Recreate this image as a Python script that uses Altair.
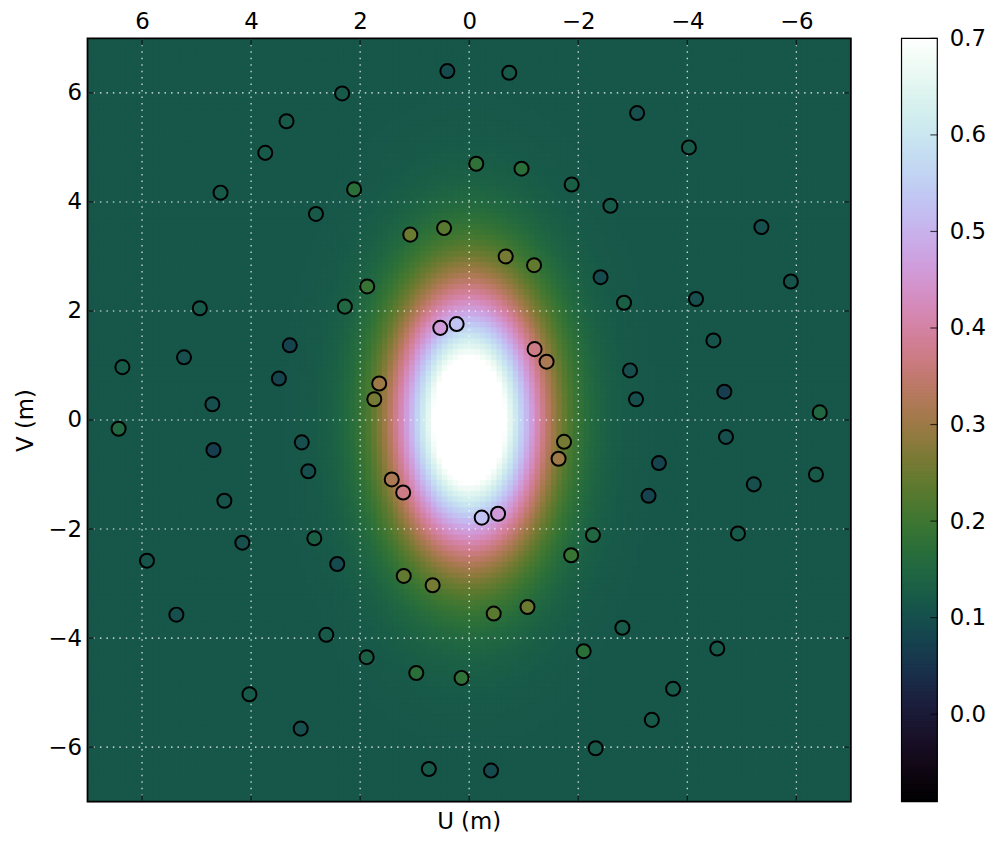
import numpy as np
import pandas as pd
import altair as alt

alt.data_transformers.disable_max_rows()

# ---------------- data ----------------
U = [2.33, -2.32, 3.35, -3.35, 3.74, -3.74, 4.56, -4.55, 2.81, -2.81,
     2.11, -2.10, 2.28, -2.27, 0.40, -0.40, -0.735, 0.74, -0.13, 0.14,
     -0.96, 0.97, -1.88, 1.88, -2.59, 2.62, 1.08, -1.07, 0.46, -0.45,
     -0.67, 0.67, -1.19, 1.20, -2.41, 2.42, 1.87, -1.87, -3.08, 3.09,
     -4.03, 4.03, -5.36, 5.37, -5.90, 5.91, -2.84, 2.84, -4.16, 4.16,
     4.94, -4.93, 5.23, -5.22, 6.36, -6.36, 3.29, -3.29, 3.49, -3.48,
     4.71, -4.71, 6.43, -6.43, 4.69, -4.68, 3.07, -3.06, 2.95, -2.95,
     4.49, -4.48, 0.53, -0.53, 0.23, -0.23, -1.20, 1.21, -1.42, 1.42,
     1.65, -1.64, 1.74, -1.74]
V = [5.99, -6.02, 5.48, -5.50, 4.90, -4.93, 4.17, -4.19, 3.78, -3.81,
     4.23, -4.24, 2.08, -2.11, 6.40, -6.43, 6.37, -6.40, 4.70, -4.73,
     4.61, -4.64, 4.32, -4.35, 3.93, -3.94, 3.40, -3.43, 3.52, -3.55,
     3.00, -3.03, 2.84, -2.86, 2.62, -2.64, 2.45, -2.48, 5.63, -5.66,
     5.00, -5.03, 3.54, -3.57, 2.54, -2.58, 2.15, -2.17, 2.22, -2.25,
     2.05, -2.08, 1.15, -1.18, 0.97, -1.00, 1.37, -1.39, 0.76, -0.79,
     0.29, -0.31, -0.16, 0.14, -0.55, 0.52, -0.41, 0.38, -0.94, 0.91,
     -1.48, 1.46, 1.69, -1.72, 1.76, -1.79, 1.30, -1.33, 1.07, -1.09,
     0.67, -0.71, 0.38, -0.40]
AMP = [0.12, 0.12, 0.12, 0.12, 0.12, 0.12, 0.12, 0.12, 0.12, 0.12,
       0.17, 0.17, 0.15, 0.15, 0.09, 0.09, 0.12, 0.12, 0.18, 0.18,
       0.17, 0.17, 0.13, 0.13, 0.12, 0.12, 0.25, 0.25, 0.23, 0.23,
       0.26, 0.26, 0.24, 0.24, 0.09, 0.09, 0.19, 0.19, 0.10, 0.10,
       0.12, 0.12, 0.10, 0.10, 0.11, 0.11, 0.13, 0.13, 0.10, 0.10,
       0.12, 0.12, 0.10, 0.10, 0.12, 0.12, 0.08, 0.08, 0.08, 0.08,
       0.10, 0.10, 0.15, 0.15, 0.07, 0.07, 0.10, 0.10, 0.10, 0.10,
       0.11, 0.11, 0.46, 0.46, 0.53, 0.53, 0.37, 0.37, 0.32, 0.32,
       0.30, 0.30, 0.26, 0.26]

AXIS_TICKS = [-6, -4, -2, 0, 2, 4, 6]
CB_TICKS = [0.0, 0.1, 0.2, 0.3, 0.4, 0.5, 0.6, 0.7]
VMIN, VMAX = -0.0906, 0.7

# background model (elliptical Gaussian)
BG_LEVEL = 0.115
PEAK = 0.75
SIG_U = 0.93
SIG_V = 1.65

# ---------------- style ----------------
W = H = 768
CB_GAP, CB_W = 51, 36
FONT = "DejaVu Sans"
FS = 23


def cubehelix_hex(x):
    phi = 2 * np.pi * (0.5 / 3 - 1.5 * x)
    a = x * (1 - x) / 2
    r = x + a * (-0.14861 * np.cos(phi) + 1.78277 * np.sin(phi))
    g = x + a * (-0.29227 * np.cos(phi) - 0.90649 * np.sin(phi))
    b = x + a * (1.97294 * np.cos(phi))
    return "#%02x%02x%02x" % tuple(int(round(255 * min(1, max(0, c)))) for c in (r, g, b))


N_STOPS = 41
xs = [i / (N_STOPS - 1) for i in range(N_STOPS)]
c_dom = [VMIN + x * (VMAX - VMIN) for x in xs]
c_rng = [cubehelix_hex(x) for x in xs]
cscale = alt.Scale(domain=c_dom, range=c_rng, interpolate="rgb", clamp=True)

# ---------------- tables ----------------
STEP = 0.1
OVL = 0.03  # small overlap so no seams show between cells
cen = np.arange(-7 + STEP / 2, 7, STEP)
UU, VV = np.meshgrid(cen, cen)
ZZ = BG_LEVEL + PEAK * np.exp(-0.5 * ((UU / SIG_U) ** 2 + (VV / SIG_V) ** 2))
heat_df = pd.DataFrame({
    "u0": (UU - STEP / 2).ravel().round(3),
    "u1": np.minimum(UU + STEP / 2 + OVL, 7).ravel().round(3),
    "v0": (VV - STEP / 2).ravel().round(3),
    "v1": np.minimum(VV + STEP / 2 + OVL, 7).ravel().round(3),
    "z": ZZ.ravel().round(4),
})
pts_df = pd.DataFrame({"u": U, "v": V, "z": AMP})
tick_df = pd.DataFrame({"t": AXIS_TICKS})
cbt_df = pd.DataFrame({"t": CB_TICKS})
one_df = pd.DataFrame({"a": [0]})

N_CB = 256
edges = np.linspace(VMIN, VMAX, N_CB + 1)
cb_df = pd.DataFrame({"lo": edges[:-1],
                      "hi": np.minimum(edges[1:] + 0.004, VMAX),
                      "z": (edges[:-1] + edges[1:]) / 2})

# ---------------- scales & axes ----------------
xscale = alt.Scale(domain=[-7, 7], reverse=True, nice=False, zero=False)
yscale = alt.Scale(domain=[-7, 7], nice=False, zero=False)
xaxis = alt.Axis(orient="top", values=AXIS_TICKS, title=None, grid=False, ticks=False,
                 domain=False, labelFontSize=FS, labelFont=FONT, labelColor="black",
                 labelPadding=5, labelFlush=False)
yaxis = alt.Axis(orient="left", values=AXIS_TICKS, title="V (m)", grid=False, ticks=False,
                 domain=False, labelFontSize=FS, labelFont=FONT, labelColor="black",
                 labelPadding=6, titleFontSize=FS, titleFont=FONT, titleFontWeight="normal",
                 titleColor="black", titlePadding=10, labelFlush=False)

X = lambda f: alt.X(f, scale=xscale, axis=xaxis)
Y = lambda f: alt.Y(f, scale=yscale, axis=yaxis)

heat = alt.Chart(heat_df).mark_rect(strokeWidth=0).encode(
    x=X("u0:Q"), x2="u1:Q", y=Y("v0:Q"), y2="v1:Q",
    fill=alt.Fill("z:Q", scale=cscale, legend=None),
)
grid_x = alt.Chart(tick_df).mark_rule(color="white", strokeWidth=1.1, strokeDash=[1.5, 5], opacity=0.95).encode(
    x=X("t:Q"))
grid_y = alt.Chart(tick_df).mark_rule(color="white", strokeWidth=1.1, strokeDash=[1.5, 5], opacity=0.95).encode(
    y=Y("t:Q"))
pts = alt.Chart(pts_df).mark_circle(size=200, stroke="black", strokeWidth=2, opacity=1).encode(
    x=X("u:Q"), y=Y("v:Q"),
    fill=alt.Fill("z:Q", scale=cscale, legend=None),
)
frame = alt.Chart(one_df).mark_rect(filled=False, stroke="black", strokeWidth=1.8).encode(
    x=alt.value(0), x2=alt.value(W), y=alt.value(0), y2=alt.value(H))
tk = dict(color="black", thickness=1.2, size=7)
t_top = alt.Chart(tick_df).mark_tick(orient="vertical", yOffset=3.5, **tk).encode(x=X("t:Q"), y=alt.value(0))
t_bot = alt.Chart(tick_df).mark_tick(orient="vertical", yOffset=-3.5, **tk).encode(x=X("t:Q"), y=alt.value(H))
t_lef = alt.Chart(tick_df).mark_tick(orient="horizontal", xOffset=3.5, **tk).encode(y=Y("t:Q"), x=alt.value(0))
t_rig = alt.Chart(tick_df).mark_tick(orient="horizontal", xOffset=-3.5, **tk).encode(y=Y("t:Q"), x=alt.value(W))

main = alt.layer(heat, grid_x, grid_y, pts, frame, t_top, t_bot, t_lef, t_rig)

# ---------------- colour bar ----------------
cb_scale = alt.Scale(domain=[VMIN, VMAX], nice=False, zero=False)
cb_axis = alt.Axis(orient="right", values=CB_TICKS, format=".1f", title=None, grid=False,
                   ticks=False, domain=False, labelFontSize=FS, labelFont=FONT,
                   labelColor="black", labelPadding=12, labelFlush=False,
                   offset=CB_GAP + CB_W)
cb_left, cb_right = W + CB_GAP, W + CB_GAP + CB_W
cbar = alt.Chart(cb_df).mark_rect(strokeWidth=0).encode(
    x=alt.value(cb_left), x2=alt.value(cb_right),
    y=alt.Y("lo:Q", scale=cb_scale, axis=cb_axis), y2="hi:Q",
    fill=alt.Fill("z:Q", scale=cscale, legend=None),
)
cb_ticks = alt.Chart(cbt_df).mark_tick(orient="horizontal", xOffset=-3.5, **tk).encode(
    y=alt.Y("t:Q", scale=cb_scale, axis=cb_axis), x=alt.value(cb_right))
cb_frame = alt.Chart(one_df).mark_rect(filled=False, stroke="black", strokeWidth=1.2).encode(
    x=alt.value(cb_left), x2=alt.value(cb_right), y=alt.value(0), y2=alt.value(H))
cb = alt.layer(cbar, cb_ticks, cb_frame)

chart = alt.layer(main, cb).resolve_scale(y="independent").properties(
    width=W, height=H,
    title=alt.TitleParams("U (m)", orient="bottom", fontSize=FS, font=FONT,
                          fontWeight="normal", color="black", offset=9),
    padding={"left": 7, "top": 0, "right": 0, "bottom": 0},
).configure_view(strokeWidth=0).configure(font=FONT)

chart.save("out.html", embed_options={"renderer": "svg", "actions": False})
